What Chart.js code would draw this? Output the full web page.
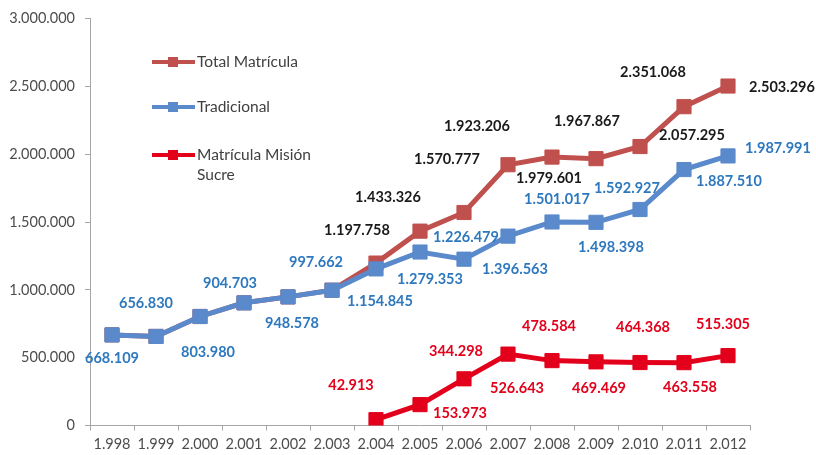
<!DOCTYPE html>
<html>
<head>
<meta charset="utf-8">
<script src="https://cdn.jsdelivr.net/npm/chart.js@4/dist/chart.umd.min.js"></script>
<style>
html,body{margin:0;padding:0;background:#fff;}
#wrap{position:relative;width:816px;height:455px;}
</style>
</head>
<body>
<div id="wrap"><canvas id="c" width="816" height="455"></canvas></div>
<script>
// ---- data ----
const years = ['1.998','1.999','2.000','2.001','2.002','2.003','2.004','2.005','2.006','2.007','2.008','2.009','2.010','2.011','2.012'];
const totalMatricula = [668109, 656830, 803980, 904703, 948578, 997662, 1197758, 1433326, 1570777, 1923206, 1979601, 1967867, 2057295, 2351068, 2503296];
const tradicional = [668109, 656830, 803980, 904703, 948578, 997662, 1154845, 1279353, 1226479, 1396563, 1501017, 1498398, 1592927, 1887510, 1987991];
const misionSucre = [null, null, null, null, null, null, 42913, 153973, 344298, 526643, 478584, 469469, 464368, 463558, 515305];
const yTicks = [0, 500000, 1000000, 1500000, 2000000, 2500000, 3000000];
const seriesNames = ['Total Matrícula', 'Tradicional', 'Matrícula Misión Sucre'];

// ---- label placement (pixel offsets from each point; style only) ----
const labelOffsets = {
  0: [null,null,null,null,null,null,[-19,-33],[-32,-34],[-17,-53],[-31,-38],[-3,21],[-9,-37],[52,-11],[-31,-34],[54,1]],
  1: [[0,23],[-10,-33],[8,36],[-14,-19],[4,26],[-16,-28],[4,32],[10,27],[2,-22],[7,33],[5,-23],[15,25],[-13,-21],[45,12],[50,-8]],
  2: [null,null,null,null,null,null,[-25,-34],[40,9],[-8,-27],[9,34],[-3,-34],[3,26],[3,-35],[6,25],[-5,-31]]
};
const labelColors = ['#1a1a1a', '#2E78BE', '#E3001B'];
const lineColors = ['#C0504D', '#5A8ACB', '#E3001B'];
const FONT = 'Lato, "Open Sans", sans-serif';

function fmt(v){ return String(v).replace(/\B(?=(\d{3})+(?!\d))/g, '.'); }

const dataLabels = {
  id: 'dataLabels',
  afterDatasetsDraw(chart){
    const ctx = chart.ctx;
    ctx.save();
    ctx.font = 'bold 14.5px ' + FONT;
    ctx.textAlign = 'center';
    ctx.textBaseline = 'middle';
    chart.data.datasets.forEach((ds, i) => {
      const meta = chart.getDatasetMeta(i);
      const offs = labelOffsets[i];
      meta.data.forEach((pt, j) => {
        const v = ds.data[j];
        if (v == null || !offs[j]) return;
        ctx.fillStyle = labelColors[i];
        ctx.fillText(fmt(v), pt.x + offs[j][0], pt.y + offs[j][1]);
      });
    });
    ctx.restore();
  }
};

const customLegend = {
  id: 'customLegend',
  afterDraw(chart){
    const ctx = chart.ctx;
    ctx.save();
    const rows = [[62], [107], [155, 175]];
    ctx.font = '15.5px ' + FONT;
    ctx.textBaseline = 'middle';
    ctx.textAlign = 'left';
    rows.forEach((r, i) => {
      const y = r[0];
      ctx.strokeStyle = lineColors[i];
      ctx.lineWidth = 4;
      ctx.beginPath(); ctx.moveTo(152, y); ctx.lineTo(195, y); ctx.stroke();
      ctx.fillStyle = lineColors[i];
      ctx.fillRect(168, y - 5, 10, 10);
      ctx.fillStyle = '#404040';
      if (i === 2) {
        ctx.fillText('Matrícula Misión', 197, r[0]);
        ctx.fillText('Sucre', 197, r[1]);
      } else {
        ctx.fillText(seriesNames[i], 197, y);
      }
    });
    ctx.restore();
  }
};

function mkDs(i, data, order){
  return {
    label: seriesNames[i],
    data: data,
    borderColor: lineColors[i],
    backgroundColor: lineColors[i],
    pointBackgroundColor: lineColors[i],
    pointBorderColor: lineColors[i],
    borderWidth: 5,
    pointStyle: 'rect',
    pointRadius: 10,
    pointBorderWidth: 1,
    tension: 0,
    order: order,
    spanGaps: false
  };
}

new Chart(document.getElementById('c'), {
  type: 'line',
  data: {
    labels: years,
    datasets: [mkDs(0, totalMatricula, 1), mkDs(1, tradicional, 0), mkDs(2, misionSucre, 2)]
  },
  options: {
    responsive: false,
    animation: false,
    events: [],
    layout: { padding: { left: 0, right: 66, top: 17, bottom: 0 } },
    plugins: { legend: { display: false }, tooltip: { enabled: false } },
    scales: {
      x: {
        offset: true,
        grid: { display: true, drawOnChartArea: false, drawTicks: true, tickLength: 5, color: '#A6A6A6', offset: true },
        border: { display: true, color: '#A6A6A6', width: 1 },
        ticks: { color: '#4d4d4d', font: { family: FONT, size: 14.5 }, padding: 5, maxRotation: 0, autoSkip: false },
        afterFit(s){ s.height = 29.5; }
      },
      y: {
        min: 0, max: 3000000,
        afterBuildTicks(s){ s.ticks = yTicks.map(v => ({ value: v })); },
        grid: { display: true, drawOnChartArea: false, drawTicks: true, tickLength: 5, color: '#A6A6A6' },
        border: { display: true, color: '#A6A6A6', width: 1 },
        ticks: { color: '#4d4d4d', font: { family: FONT, size: 14.5 }, padding: 10, callback: v => fmt(v) },
        afterFit(s){ s.width = 90; }
      }
    }
  },
  plugins: [dataLabels, customLegend]
});
</script>
</body>
</html>
